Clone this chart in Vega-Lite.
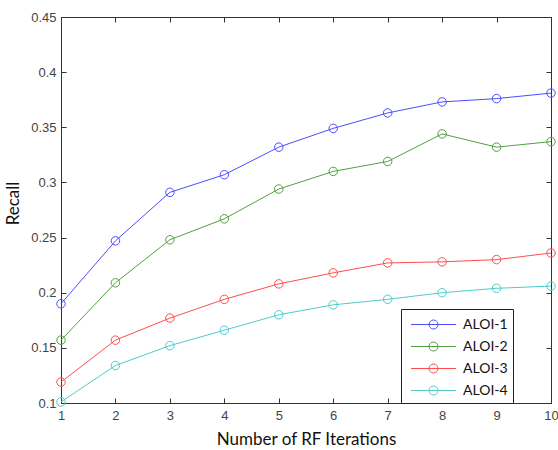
{
  "$schema": "https://vega.github.io/schema/vega-lite/v6.json",
  "width": 490,
  "height": 386,
  "autosize": "none",
  "padding": {"left": 61, "top": 17, "right": 7, "bottom": 47},
  "background": "white",
  "config": {
    "view": {"stroke": "#333333", "strokeWidth": 1},
    "axis": {
      "grid": false,
      "domainColor": "#333333",
      "tickColor": "#333333",
      "labelFont": "Liberation Sans",
      "labelFontSize": 13,
      "labelColor": "#444444",
      "titleFont": "Lato",
      "titleFontSize": 17,
      "titleFontWeight": "normal",
      "titleColor": "#111111"
    }
  },
  "data": {
    "values": [
      {"iter": 1, "series": "ALOI-1", "recall": 0.190},
      {"iter": 2, "series": "ALOI-1", "recall": 0.247},
      {"iter": 3, "series": "ALOI-1", "recall": 0.291},
      {"iter": 4, "series": "ALOI-1", "recall": 0.307},
      {"iter": 5, "series": "ALOI-1", "recall": 0.332},
      {"iter": 6, "series": "ALOI-1", "recall": 0.349},
      {"iter": 7, "series": "ALOI-1", "recall": 0.363},
      {"iter": 8, "series": "ALOI-1", "recall": 0.373},
      {"iter": 9, "series": "ALOI-1", "recall": 0.376},
      {"iter": 10, "series": "ALOI-1", "recall": 0.381},
      {"iter": 1, "series": "ALOI-2", "recall": 0.157},
      {"iter": 2, "series": "ALOI-2", "recall": 0.209},
      {"iter": 3, "series": "ALOI-2", "recall": 0.248},
      {"iter": 4, "series": "ALOI-2", "recall": 0.267},
      {"iter": 5, "series": "ALOI-2", "recall": 0.294},
      {"iter": 6, "series": "ALOI-2", "recall": 0.310},
      {"iter": 7, "series": "ALOI-2", "recall": 0.319},
      {"iter": 8, "series": "ALOI-2", "recall": 0.344},
      {"iter": 9, "series": "ALOI-2", "recall": 0.332},
      {"iter": 10, "series": "ALOI-2", "recall": 0.337},
      {"iter": 1, "series": "ALOI-3", "recall": 0.119},
      {"iter": 2, "series": "ALOI-3", "recall": 0.157},
      {"iter": 3, "series": "ALOI-3", "recall": 0.177},
      {"iter": 4, "series": "ALOI-3", "recall": 0.194},
      {"iter": 5, "series": "ALOI-3", "recall": 0.208},
      {"iter": 6, "series": "ALOI-3", "recall": 0.218},
      {"iter": 7, "series": "ALOI-3", "recall": 0.227},
      {"iter": 8, "series": "ALOI-3", "recall": 0.228},
      {"iter": 9, "series": "ALOI-3", "recall": 0.230},
      {"iter": 10, "series": "ALOI-3", "recall": 0.236},
      {"iter": 1, "series": "ALOI-4", "recall": 0.101},
      {"iter": 2, "series": "ALOI-4", "recall": 0.134},
      {"iter": 3, "series": "ALOI-4", "recall": 0.152},
      {"iter": 4, "series": "ALOI-4", "recall": 0.166},
      {"iter": 5, "series": "ALOI-4", "recall": 0.180},
      {"iter": 6, "series": "ALOI-4", "recall": 0.189},
      {"iter": 7, "series": "ALOI-4", "recall": 0.194},
      {"iter": 8, "series": "ALOI-4", "recall": 0.200},
      {"iter": 9, "series": "ALOI-4", "recall": 0.204},
      {"iter": 10, "series": "ALOI-4", "recall": 0.206}
    ]
  },
  "resolve": {"axis": {"x": "independent", "y": "independent"}},
  "layer": [
    {
      "mark": {"type": "line", "strokeWidth": 1, "clip": false},
      "encoding": {
        "x": {
          "field": "iter", "type": "quantitative",
          "scale": {"domain": [1, 10], "nice": false, "zero": false},
          "axis": {
            "title": "Number of RF Iterations",
            "values": [1, 2, 3, 4, 5, 6, 7, 8, 9, 10],
            "format": "d",
            "tickSize": -5,
            "labelPadding": 11,
            "titlePadding": 9,
            "labelFlush": false
          }
        },
        "y": {
          "field": "recall", "type": "quantitative",
          "scale": {"domain": [0.1, 0.45], "nice": false, "zero": false},
          "axis": {
            "title": "Recall",
            "values": [0.1, 0.15, 0.2, 0.25, 0.3, 0.35, 0.4, 0.45],
            "format": ".2~f",
            "tickSize": -5,
            "labelPadding": 10,
            "titlePadding": 8,
            "titleY": 186,
            "labelFlush": false
          }
        },
        "color": {
          "field": "series", "type": "nominal",
          "scale": {"domain": ["ALOI-1", "ALOI-2", "ALOI-3", "ALOI-4"], "range": ["#4d4dff", "#52a042", "#ff4d4d", "#4dcccc"]},
          "legend": {
            "title": null,
            "orient": "none",
            "legendX": 340,
            "legendY": 292,
            "padding": 5,
            "strokeColor": "#222222",
            "fillColor": "white",
            "rowPadding": 4,
            "symbolType": "M-2.25,0H2.25M0.45,0A0.45,0.45 0 1,1 -0.45,0A0.45,0.45 0 1,1 0.45,0",
            "symbolSize": 400,
            "symbolStrokeWidth": 1,
            "symbolFillColor": "transparent",
            "symbolOffset": 17,
            "labelOffset": 19,
            "labelFont": "Lato",
            "labelFontSize": 14,
            "labelColor": "#111111",
            "labelExpr": "datum.label + '\u00a0\u00a0\u00a0\u00a0\u00a0\u00a0\u00a0\u00a0\u00a0\u00a0\u00a0\u00a0\u00a0\u00a0\u00a0'"
          }
        }
      }
    },
    {
      "mark": {"type": "point", "filled": false, "size": 72, "strokeWidth": 1, "opacity": 1, "clip": false},
      "encoding": {
        "x": {
          "field": "iter", "type": "quantitative",
          "scale": {"domain": [1, 10], "nice": false, "zero": false},
          "axis": {"orient": "top", "title": null, "labels": false, "values": [1, 2, 3, 4, 5, 6, 7, 8, 9, 10], "tickSize": -5}
        },
        "y": {
          "field": "recall", "type": "quantitative",
          "scale": {"domain": [0.1, 0.45], "nice": false, "zero": false},
          "axis": {"orient": "right", "title": null, "labels": false, "values": [0.1, 0.15, 0.2, 0.25, 0.3, 0.35, 0.4, 0.45], "tickSize": -5}
        },
        "color": {"field": "series", "type": "nominal"}
      }
    }
  ]
}
